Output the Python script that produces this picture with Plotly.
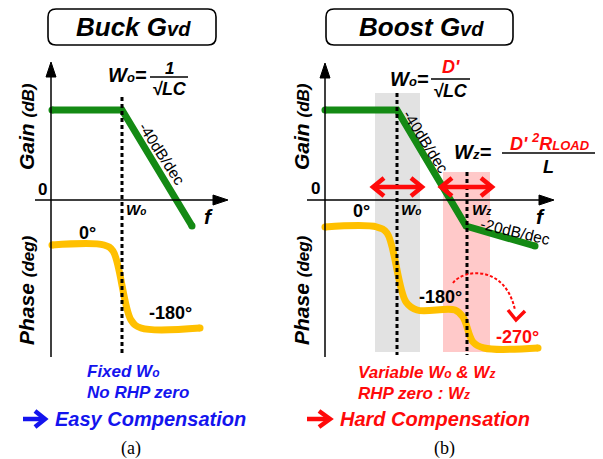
import plotly.graph_objects as go

# ---------------- data (diagram units) ----------------
# Panel (a) Buck converter G_vd
buck_gain_x = [52, 122, 192]
buck_gain_y = [110, 110, 226]
buck_phase_x = [52, 104, 113, 131, 141, 200]
buck_phase_y = [245, 245, 251, 320, 328, 328]
buck_wo = 122

# Panel (b) Boost converter G_vd
boost_gain_x = [325, 397, 466, 535]
boost_gain_y = [110, 110, 226, 246]
boost_phase_x = [325, 377, 387, 406, 417, 455, 463, 473, 484, 538]
boost_phase_y = [227, 227, 233, 302, 310, 310, 317, 342, 348, 348]
boost_wo = 397
boost_wz = 467

GREEN = "#148A14"
YELLOW = "#FFC000"
BLUE = "#1414EE"
RED = "#FF0A0A"
FONT = "Liberation Sans"

fig = go.Figure()

def line(x, y, color="black", width=1.5, dash=None, shape="linear", fill=None):
    fig.add_trace(go.Scatter(x=x, y=y, mode="lines", hoverinfo="skip",
                             line=dict(color=color, width=width, dash=dash, shape=shape),
                             fill=fill, fillcolor=color if fill else None))

def ends(x, y, color, size):
    fig.add_trace(go.Scatter(x=[x[0], x[-1]], y=[y[0], y[-1]], mode="markers", hoverinfo="skip",
                             marker=dict(color=color, size=size, line=dict(width=0))))

def text(x, y, s, size=16, color="black", xanchor="center", angle=0, family=FONT):
    fig.add_annotation(x=x, y=y, xref="x", yref="y", text=s, showarrow=False,
                       xanchor=xanchor, yanchor="middle", textangle=angle,
                       font=dict(family=family, size=size, color=color))

def small(s, px):
    return f"<span style='font-size:{px}px'>{s}</span>"

# ---- bands (panel b) ----
fig.add_shape(type="rect", x0=375, x1=420, y0=93, y1=352, fillcolor="#E2E2E2",
              line=dict(width=0), layer="below")
fig.add_shape(type="rect", x0=443, x1=490, y0=172, y1=352, fillcolor="#FFC9C9",
              line=dict(width=0), layer="below")

# ---- curves ----
line(buck_gain_x, buck_gain_y, GREEN, 7)
ends(buck_gain_x, buck_gain_y, GREEN, 7)
line(buck_phase_x, buck_phase_y, YELLOW, 7, shape="spline")
ends(buck_phase_x, buck_phase_y, YELLOW, 7)
line(boost_gain_x, boost_gain_y, GREEN, 7)
ends(boost_gain_x, boost_gain_y, GREEN, 7)
line(boost_phase_x, boost_phase_y, YELLOW, 7, shape="spline")
ends(boost_phase_x, boost_phase_y, YELLOW, 7)

# ---- dotted markers at Wo / Wz ----
line([buck_wo, buck_wo], [97, 356], "black", 3, dash="4px,3px")
line([boost_wo, boost_wo], [93, 355], "black", 3, dash="4px,3px")
line([boost_wz, boost_wz], [172, 355], "black", 3, dash="4px,3px")

# ---- axes with arrow heads ----
line([51, 51], [357, 72], "black", 1.5)
line([35, 216], [200, 200], "black", 1.5)
line([325, 325], [357, 72], "black", 1.5)
line([307, 541], [200, 200], "black", 1.5)
line([51, 46, 56, 51], [62, 77, 77, 62], "black", 1, fill="toself")
line([325, 320, 330, 325], [63, 78, 78, 63], "black", 1, fill="toself")
line([228, 213, 213, 228], [200, 195, 205, 200], "black", 1, fill="toself")
line([554, 539, 539, 554], [200, 195, 205, 200], "black", 1, fill="toself")

# ---- red double arrows ----
for xa, xb in [(373, 422), (441, 492)]:
    line([xa + 2, xb - 2], [187, 187], RED, 4.5)
    line([xa + 11, xa, xa + 11], [178, 187, 196], RED, 4.5)
    line([xb - 11, xb, xb - 11], [178, 187, 196], RED, 4.5)

# ---- curved dotted red arrow ----
fig.add_shape(type="path", path="M 453,283 C 463,269 505,264 515,310",
              line=dict(color=RED, width=2, dash="3px,2px"), layer="above")
line([508, 516, 525], [310, 320, 311], RED, 3.5)

# ---- compensation arrows ----
line([23, 43], [419, 419], BLUE, 4.5)
line([35, 45, 35], [411, 419, 427], BLUE, 4.5)
line([307, 328], [419, 419], RED, 4.5)
line([319, 330, 319], [411, 419, 427], RED, 4.5)

# ---- title boxes ----
def rbox(x0, y0, x1, y1, r=8):
    p = (f"M {x0+r},{y0} L {x1-r},{y0} Q {x1},{y0} {x1},{y0+r} L {x1},{y1-r} "
         f"Q {x1},{y1} {x1-r},{y1} L {x0+r},{y1} Q {x0},{y1} {x0},{y1-r} "
         f"L {x0},{y0+r} Q {x0},{y0} {x0+r},{y0} Z")
    fig.add_shape(type="path", path=p, line=dict(color="black", width=1.6))

rbox(48, 9, 216, 45)
rbox(326, 9, 513, 45)
text(133, 27, "<b><i>Buck G" + small("vd", 20) + "</i></b>", 26)
text(421, 27, "<b><i>Boost G" + small("vd", 20) + "</i></b>", 26)

# ---- axis titles ----
for xx in (26, 301):
    text(xx, 127, "<b><i>Gain " + small("(dB)", 17) + "</i></b>", 21, angle=-90)
    text(xx, 290, "<b><i>Phase " + small("(deg)", 17) + "</i></b>", 21, angle=-90)

WO = "W" + small("o", 12)
WZ = "W" + small("z", 12)

text(42, 189, "<b>0</b>", 17)
text(315, 188, "<b>0</b>", 17)
text(208, 216, "<b><i>f</i></b>", 21)
text(540, 216, "<b><i>f</i></b>", 21)
text(136, 209, "<b><i>W" + small("o", 10) + "</i></b>", 15)
text(411, 209, "<b><i>W" + small("o", 10) + "</i></b>", 15)
text(481, 209, "<b><i>W" + small("z", 10) + "</i></b>", 15)

text(87, 233, "<b>0°</b>", 18)
text(170, 313, "<b>-180°</b>", 18)
text(361, 211, "<b>0°</b>", 18)
text(440, 297, "<b>-180°</b>", 18)
text(517, 337, "<b>-270°</b>", 18, RED)

text(162, 153, "-40dB/dec", 15.5, angle=57)
text(426, 141, "-40dB/dec", 15.5, angle=58)
text(515, 231, "-20dB/dec", 15.5, angle=13.5)

# ---- formulas ----
text(149, 75, "<b><i>W" + small("o", 13) + "=</i></b>", 20, xanchor="right")
text(169, 68, "<b><i>1</i></b>", 17)
line([150, 188], [77, 77], "black", 1.5)
text(169, 89, "<b><i>√LC</i></b>", 18)

text(431, 79, "<b><i>W" + small("o", 13) + "=</i></b>", 20, xanchor="right")
text(451, 67, "<b><i>D'</i></b>", 18, RED)
line([431, 470], [79, 79], "black", 1.5)
text(450, 91, "<b><i>√LC</i></b>", 18)

text(493, 152, "<b><i>W" + small("z", 13) + "=</i></b>", 20, xanchor="right")
text(550, 142, "<b><i>D' <sup>2</sup>R" + small("LOAD", 13) + "</i></b>", 18, RED)
line([502, 595], [153, 153], "black", 1.5)
text(548, 167, "<b><i>L</i></b>", 18)

# ---- captions ----
text(85, 371, "<b><i>Fixed " + WO + "</i></b>", 17, BLUE, xanchor="left")
text(85, 392, "<b><i>No RHP zero</i></b>", 17, BLUE, xanchor="left")
text(53, 419, "<b><i>Easy Compensation</i></b>", 20, BLUE, xanchor="left")
text(356, 372, "<b><i>Variable " + WO + " &amp; " + WZ + "</i></b>", 17, RED, xanchor="left")
text(356, 393, "<b><i>RHP zero : " + WZ + "</i></b>", 17, RED, xanchor="left")
text(338, 419, "<b><i>Hard Compensation</i></b>", 20, RED, xanchor="left")
text(131, 448, "(a)", 18, family="Liberation Serif")
text(444, 448, "(b)", 18, family="Liberation Serif")

# The page body adds an 8 px offset, so the plot covers diagram units 8..603 / 8..459.
fig.update_layout(width=595, height=451, margin=dict(l=0, r=0, t=0, b=0),
                  paper_bgcolor="white", plot_bgcolor="white", showlegend=False,
                  xaxis=dict(range=[8, 603], visible=False, fixedrange=True),
                  yaxis=dict(range=[459, 8], visible=False, fixedrange=True))
fig.write_html("out.html")
